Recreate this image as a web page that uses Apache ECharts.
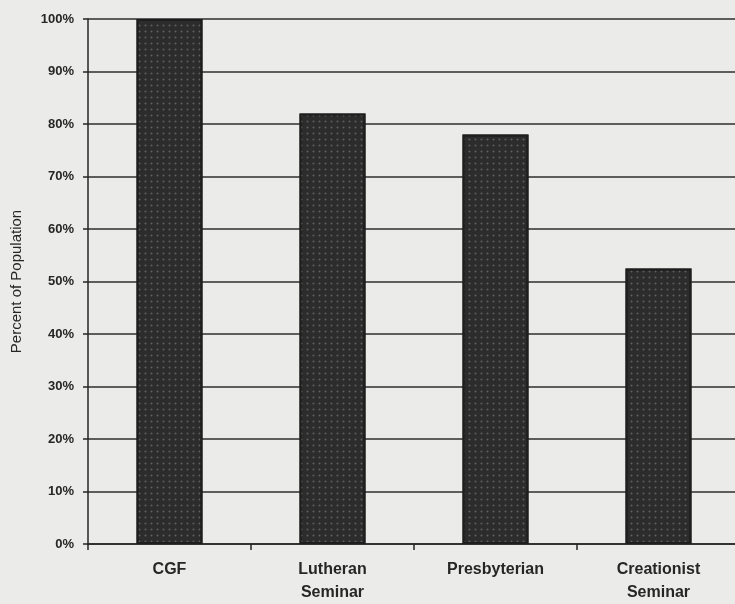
<!DOCTYPE html>
<html>
<head>
<meta charset="utf-8">
<script src="https://cdn.jsdelivr.net/npm/echarts@6/dist/echarts.min.js"></script>
<style>
html,body{margin:0;padding:0;background:#ebebe9;}
#c{width:735px;height:604px;}
</style>
</head>
<body>
<div id="c"></div>
<script>
var categories = ['CGF', 'Lutheran\nSeminar', 'Presbyterian', 'Creationist\nSeminar'];
var values = [100, 82, 78, 52.5];
var yTicks = [0, 10, 20, 30, 40, 50, 60, 70, 80, 90, 100];

var chart = echarts.init(document.getElementById('c'), null, {renderer: 'canvas'});
chart.setOption({
  backgroundColor: '#ebebe9',
  animation: false,
  grid: {left: 88, width: 652, top: 19, bottom: 60, containLabel: false, outerBoundsMode: 'none'},
  xAxis: {
    type: 'category',
    data: categories,
    axisLine: {lineStyle: {color: '#262626', width: 1.5}},
    axisTick: {show: true, length: 6, lineStyle: {color: '#262626', width: 1.5}},
    axisLabel: {
      color: '#262626', fontFamily: 'Liberation Sans, Arial, sans-serif',
      fontWeight: 'bold', fontSize: 16, lineHeight: 23, margin: 14
    }
  },
  yAxis: {
    type: 'value',
    min: 0, max: 100, interval: 10,
    name: 'Percent of Population',
    nameLocation: 'middle',
    nameGap: 64,
    nameTextStyle: {color: '#262626', fontFamily: 'Liberation Sans, Arial, sans-serif', fontSize: 15},
    axisLine: {show: true, lineStyle: {color: '#262626', width: 1.5}},
    axisTick: {show: true, length: 5, lineStyle: {color: '#262626', width: 1.5}},
    axisLabel: {
      color: '#262626', fontFamily: 'Liberation Sans, Arial, sans-serif',
      fontWeight: 'bold', fontSize: 13, margin: 14,
      formatter: function (v) { return yTicks.indexOf(v) >= 0 ? v + '%' : ''; }
    },
    splitLine: {show: true, lineStyle: {color: '#2e2e2e', width: 1.5}}
  },
  series: [{
    type: 'bar',
    data: values,
    barWidth: 66,
    itemStyle: {
      color: '#2c2c2c',
      borderColor: '#1e1e1e',
      borderWidth: 2,
      decal: {
        symbol: 'circle',
        symbolSize: 0.7,
        color: 'rgba(130,130,130,0.6)',
        dashArrayX: [[3, 3]],
        dashArrayY: [3, 3],
        rotation: 0
      }
    }
  }]
});
</script>
</body>
</html>
